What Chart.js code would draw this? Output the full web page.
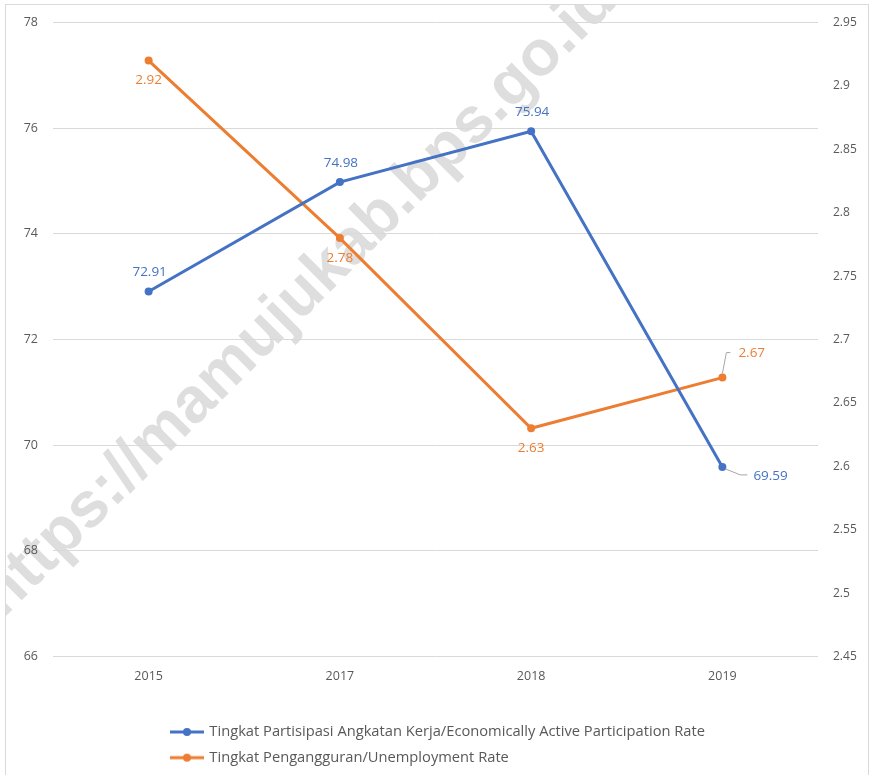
<!DOCTYPE html>
<html>
<head>
<meta charset="utf-8">
<title>TPAK dan TPT</title>
<script src="https://cdn.jsdelivr.net/npm/chart.js@4.4.1/dist/chart.umd.min.js"></script>
<style>
    html, body { margin: 0; padding: 0; background: #ffffff; overflow: hidden; }
    #wrap { width: 871px; height: 775px; overflow: hidden; }
</style>
</head>
<body>
<div id="wrap"><canvas id="laborChart" width="871" height="775"></canvas></div>
<script>
// data
const years = ['2015', '2017', '2018', '2019'];
const tpakValues = [72.91, 74.98, 75.94, 69.59];
const tptValues = [2.92, 2.78, 2.63, 2.67];
const tpakLabel = 'Tingkat Partisipasi Angkatan Kerja/Economically Active Participation Rate';
const tptLabel = 'Tingkat Pengangguran/Unemployment Rate';
const leftTicks = [66, 68, 70, 72, 74, 76, 78];
const rightTicks = [2.45, 2.5, 2.55, 2.6, 2.65, 2.7, 2.75, 2.8, 2.85, 2.9, 2.95];
const watermarkText = 'https://mamujukab.bps.go.id';

(function() {
    'use strict';

    const BLUE = '#4472C4';
    const ORANGE = '#ED7D31';
    const TICK_COLOR = '#595959';
    const FONT = '"Open Sans", sans-serif';

    // legend icon: short line with a dot in the middle
    function makeLegendIcon(color) {
        const c = document.createElement('canvas');
        c.width = 34;
        c.height = 10;
        const ctx = c.getContext('2d');
        ctx.strokeStyle = color;
        ctx.lineWidth = 3;
        ctx.beginPath();
        ctx.moveTo(0, 5);
        ctx.lineTo(34, 5);
        ctx.stroke();
        ctx.fillStyle = color;
        ctx.beginPath();
        ctx.arc(17, 5, 4, 0, Math.PI * 2);
        ctx.fill();
        return c;
    }
    const legendIcons = [makeLegendIcon(BLUE), makeLegendIcon(ORANGE)];

    // frame + watermark, both under the axes and gridlines
    const backgroundPlugin = {
        id: 'background',
        beforeDraw(chart) {
            const ctx = chart.ctx;
            ctx.save();
            ctx.beginPath();
            ctx.rect(6, 5, 862, 790);
            ctx.clip();
            ctx.translate(3, 619);
            ctx.rotate(-Math.PI / 4);
            ctx.font = 'bold 64px "Liberation Sans", Arial, sans-serif';
            ctx.fillStyle = '#dedede';
            ctx.textBaseline = 'alphabetic';
            ctx.textAlign = 'left';
            ctx.fillText(watermarkText, 0, 0);
            ctx.restore();

            ctx.save();
            ctx.strokeStyle = '#d9d9d9';
            ctx.lineWidth = 1;
            ctx.strokeRect(5.5, 4.5, 863, 790);
            ctx.restore();
        }
    };

    // legend rows start at the same x
    const legendShiftPlugin = {
        id: 'legendShift',
        afterLayout(chart) {
            if (chart.legend) {
                chart.legend.left = 161;
            }
        }
    };

    // value labels, some with leader lines
    const spots = [
        ['above', 'above', 'above', 'calloutRight'],
        ['below', 'below', 'below', 'calloutUp']
    ];
    const valueLabelPlugin = {
        id: 'valueLabels',
        afterDatasetsDraw(chart) {
            const ctx = chart.ctx;
            ctx.save();
            ctx.font = '13.5px ' + FONT;
            chart.data.datasets.forEach(function(ds, di) {
                const meta = chart.getDatasetMeta(di);
                meta.data.forEach(function(pt, i) {
                    const txt = String(ds.data[i]);
                    const kind = spots[di][i];
                    const x = pt.x, y = pt.y;
                    ctx.fillStyle = ds.borderColor;
                    ctx.textBaseline = 'middle';
                    if (kind === 'above') {
                        ctx.textAlign = 'center';
                        ctx.fillText(txt, x + 1, y - 19);
                    } else if (kind === 'below') {
                        ctx.textAlign = 'center';
                        ctx.fillText(txt, x, y + 20);
                    } else {
                        ctx.strokeStyle = '#a6a6a6';
                        ctx.lineWidth = 1;
                        ctx.beginPath();
                        if (kind === 'calloutRight') {
                            ctx.moveTo(x + 3, y + 2);
                            ctx.lineTo(x + 18, y + 8);
                            ctx.lineTo(x + 25, y + 8);
                        } else {
                            ctx.moveTo(x, y - 4);
                            ctx.lineTo(x + 4, y - 25);
                            ctx.lineTo(x + 8, y - 25);
                        }
                        ctx.stroke();
                        ctx.textAlign = 'left';
                        if (kind === 'calloutRight') {
                            ctx.fillText(txt, x + 31, y + 9);
                        } else {
                            ctx.fillText(txt, x + 16, y - 24);
                        }
                    }
                });
            });
            ctx.restore();
        }
    };

    function initChart() {
        const canvas = document.getElementById('laborChart');
        if (!canvas || typeof Chart === 'undefined') {
            return;
        }

        const config = {
            type: 'line',
            data: {
                labels: years,
                datasets: [
                    {
                        label: tpakLabel,
                        data: tpakValues,
                        yAxisID: 'yLeft',
                        borderColor: BLUE,
                        backgroundColor: BLUE,
                        borderWidth: 3,
                        pointRadius: 4,
                        pointBorderWidth: 0,
                        tension: 0,
                        fill: false
                    },
                    {
                        label: tptLabel,
                        data: tptValues,
                        yAxisID: 'yRight',
                        borderColor: ORANGE,
                        backgroundColor: ORANGE,
                        borderWidth: 3,
                        pointRadius: 4,
                        pointBorderWidth: 0,
                        tension: 0,
                        fill: false
                    }
                ]
            },
            options: {
                responsive: false,
                animation: false,
                devicePixelRatio: 1,
                layout: {
                    padding: { top: 20, left: 0, right: 0, bottom: 0 }
                },
                plugins: {
                    tooltip: { enabled: false },
                    legend: {
                        display: true,
                        position: 'bottom',
                        align: 'start',
                        maxWidth: 620,
                        labels: {
                            usePointStyle: true,
                            pointStyleWidth: 30,
                            padding: 11,
                            color: TICK_COLOR,
                            font: { family: FONT, size: 14.7 },
                            generateLabels: function(chart) {
                                const items = Chart.defaults.plugins.legend.labels.generateLabels(chart);
                                items.forEach(function(it, i) {
                                    it.pointStyle = legendIcons[i];
                                });
                                return items;
                            }
                        }
                    }
                },
                scales: {
                    x: {
                        type: 'category',
                        offset: true,
                        grid: { display: false },
                        border: { display: false },
                        ticks: {
                            color: TICK_COLOR,
                            font: { family: FONT, size: 12.5 },
                            padding: 4,
                            maxRotation: 0
                        },
                        afterFit: function(scale) { scale.height = 57; }
                    },
                    yLeft: {
                        position: 'left',
                        min: leftTicks[0],
                        max: leftTicks[leftTicks.length - 1],
                        afterBuildTicks: function(scale) {
                            scale.ticks = leftTicks.map(function(v) { return { value: v }; });
                        },
                        grid: { color: '#d9d9d9', drawTicks: false, lineWidth: 1 },
                        border: { display: false },
                        ticks: {
                            color: TICK_COLOR,
                            font: { family: FONT, size: 12.5 },
                            padding: 15,
                            callback: function(v) { return String(v); }
                        },
                        afterFit: function(scale) { scale.width = 53; }
                    },
                    yRight: {
                        position: 'right',
                        min: rightTicks[0],
                        max: rightTicks[rightTicks.length - 1],
                        afterBuildTicks: function(scale) {
                            scale.ticks = rightTicks.map(function(v) { return { value: v }; });
                        },
                        grid: { drawOnChartArea: false, drawTicks: false },
                        border: { display: false },
                        ticks: {
                            color: TICK_COLOR,
                            font: { family: FONT, size: 12 },
                            padding: 15,
                            callback: function(v) { return String(v); }
                        },
                        afterFit: function(scale) { scale.width = 53; }
                    }
                }
            },
            plugins: [backgroundPlugin, legendShiftPlugin, valueLabelPlugin]
        };

        new Chart(canvas, config);
    }

    if (document.readyState === 'loading') {
        document.addEventListener('DOMContentLoaded', initChart);
    } else {
        initChart();
    }
})();
</script>
</body>
</html>
